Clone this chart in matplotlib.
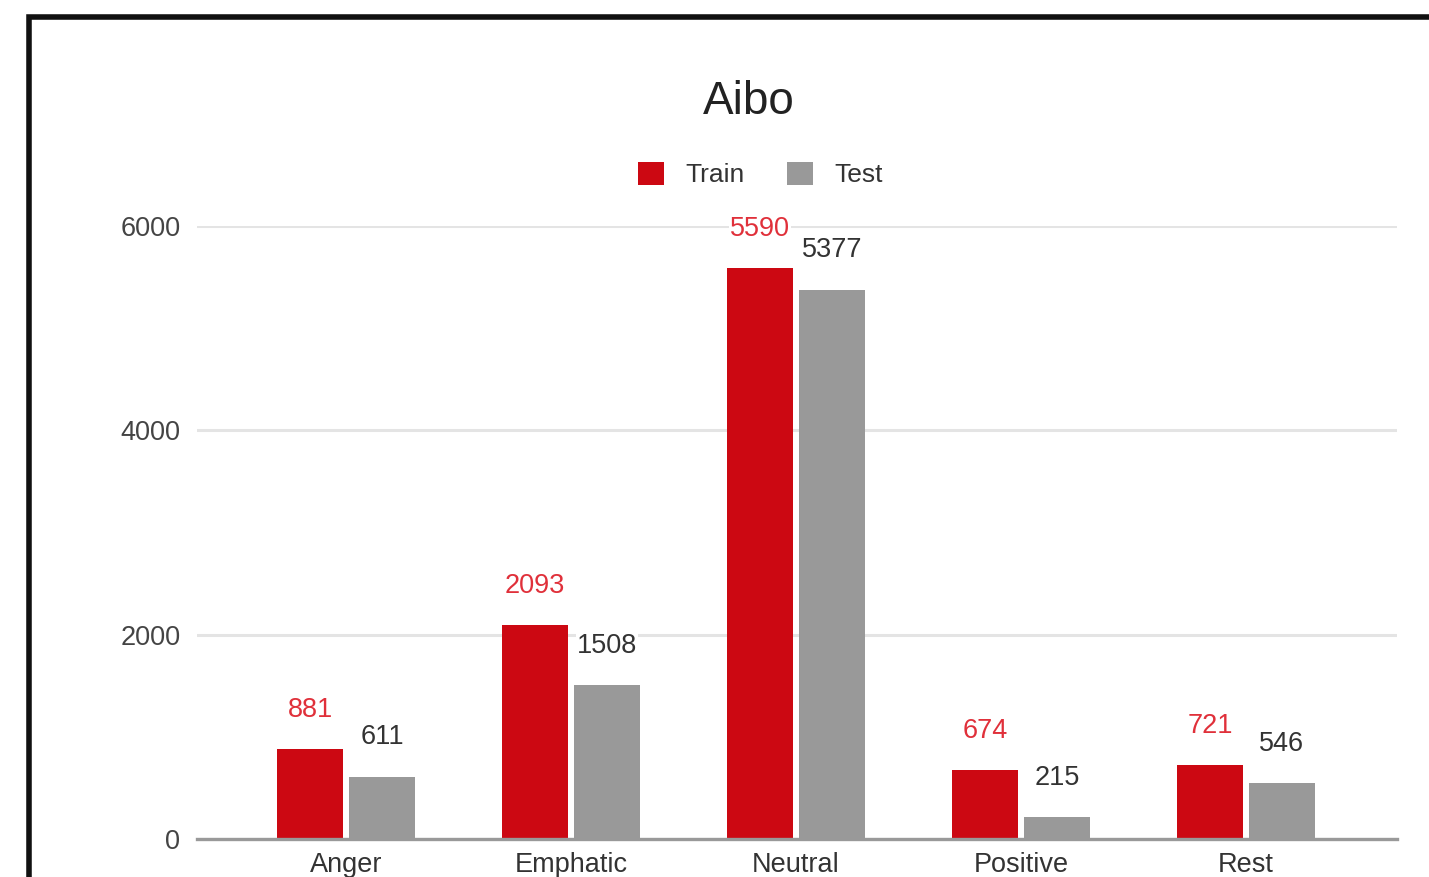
import numpy as np
import matplotlib
matplotlib.use("Agg")
import matplotlib.pyplot as plt
from matplotlib.patches import Rectangle

plt.rcParams['font.family'] = ['Liberation Sans', 'DejaVu Sans']

categories = ['Anger', 'Emphatic', 'Neutral', 'Positive', 'Rest']
train = [881, 2093, 5590, 674, 721]
test = [611, 1508, 5377, 215, 546]

red = '#cc0812'
red_txt = '#e0303a'
gray = '#999999'

fig = plt.figure(figsize=(14.29, 8.77), dpi=100)
ax = fig.add_axes([0.1379, 0.0433, 0.8397, 0.699])

x = np.arange(len(categories))
w = 0.296
off = 0.16
b1 = ax.bar(x - off, train, w, color=red, label='Train', zorder=3)
b2 = ax.bar(x + off, test, w, color=gray, label='Test', zorder=3)

for xi, v in zip(x, train):
    ax.annotate(str(v), (xi - off, v), xytext=(0, 19), textcoords='offset points',
                ha='center', va='bottom', fontsize=19.5, color=red_txt, zorder=5,
                annotation_clip=False,
                bbox=dict(facecolor='white', edgecolor='none', pad=1))
for xi, v in zip(x, test):
    ax.annotate(str(v), (xi + off, v), xytext=(0, 19), textcoords='offset points',
                ha='center', va='bottom', fontsize=19.5, color='#333333', zorder=5,
                annotation_clip=False,
                bbox=dict(facecolor='white', edgecolor='none', pad=1))

ax.set_xlim(-0.662, 4.671)
ax.set_ylim(0, 6000)
ax.set_yticks([0, 2000, 4000, 6000])
ax.set_xticks(x)
ax.set_xticklabels(categories)
ax.tick_params(axis='y', length=0, pad=12, labelsize=19.5, labelcolor='#444444')
ax.tick_params(axis='x', length=0, pad=9, labelsize=19.5, labelcolor='#333333')
ax.grid(axis='y', color='#e4e4e4', linewidth=2.2, zorder=0)
ax.set_axisbelow(True)
for s in ['top', 'right', 'left']:
    ax.spines[s].set_visible(False)
ax.spines['bottom'].set_color('#999999')
ax.spines['bottom'].set_linewidth(2.4)
ax.spines['bottom'].set_zorder(4)

fig.text(0.524, 0.884, 'Aibo', ha='center', va='center', fontsize=33, color='#222222')
fig.legend(handles=[b1, b2], loc='center', bbox_to_anchor=(0.532, 0.801), ncol=2,
           frameon=False, fontsize=19, handlelength=1.0, handleheight=1.0,
           handletextpad=0.8, columnspacing=1.6, labelcolor='#333333')

# screenshot frame (left and top edges visible)
fig.patches.append(Rectangle((0.0203, -0.1), 1.2, 1.0806, transform=fig.transFigure,
                             fill=False, edgecolor='#111111', linewidth=4))

fig.savefig('out.png', dpi=100)
